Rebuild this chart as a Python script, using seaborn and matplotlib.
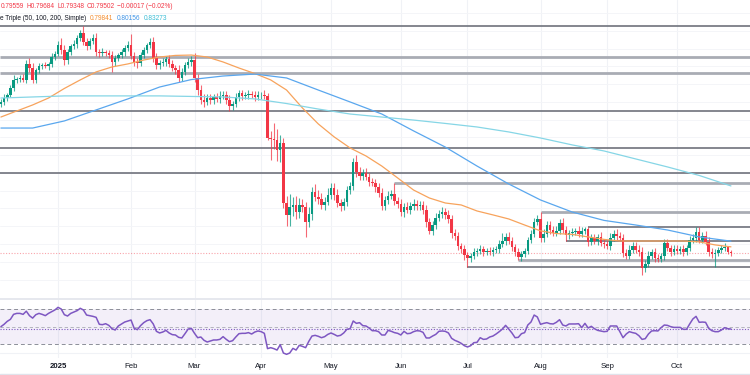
# =========================
# USD/CHF DAILY - CANDLES, SMA 50/100/200, RSI
# =========================

import numpy as np
import pandas as pd
import matplotlib
matplotlib.use("Agg")
import matplotlib.pyplot as plt
import seaborn as sns
from matplotlib.lines import Line2D
from matplotlib.patches import Rectangle

# =========================
# DATA
# =========================

dates = pd.bdate_range("2024-12-06", "2025-10-24")

first_open = 0.8789

closes = [
    0.8800, 0.8822, 0.8839, 0.8879, 0.8924, 0.8929, 0.8935, 0.8924, 0.9014, 0.8991,
    0.8924, 0.8980, 0.9002, 0.9008, 0.9002, 0.9014, 0.9053, 0.9070, 0.9121, 0.9093,
    0.9036, 0.9081, 0.9115, 0.9126, 0.9160, 0.9188, 0.9138, 0.9115, 0.9143, 0.9160,
    0.9081, 0.9076, 0.9081, 0.9076, 0.9064, 0.9025, 0.9047, 0.9064, 0.9081, 0.9104,
    0.9121, 0.9059, 0.9025, 0.9019, 0.9064, 0.9093, 0.9121, 0.9138, 0.9047, 0.9008,
    0.9019, 0.9025, 0.9042, 0.9014, 0.8991, 0.8980, 0.8935, 0.8969, 0.9008, 0.9025,
    0.9036, 0.8935, 0.8867, 0.8811, 0.8800, 0.8822, 0.8811, 0.8828, 0.8817, 0.8834,
    0.8839, 0.8811, 0.8777, 0.8788, 0.8828, 0.8850, 0.8834, 0.8839, 0.8845, 0.8839,
    0.8828, 0.8839, 0.8839, 0.8834, 0.8597, 0.8591, 0.8586, 0.8530, 0.8569, 0.8231,
    0.8164, 0.8209, 0.8220, 0.8180, 0.8220, 0.8209, 0.8124, 0.8169, 0.8293, 0.8265,
    0.8254, 0.8220, 0.8237, 0.8276, 0.8316, 0.8276, 0.8231, 0.8214, 0.8237, 0.8304,
    0.8327, 0.8462, 0.8406, 0.8383, 0.8400, 0.8378, 0.8349, 0.8344, 0.8321, 0.8287,
    0.8214, 0.8248, 0.8271, 0.8282, 0.8242, 0.8226, 0.8180, 0.8209, 0.8192, 0.8214,
    0.8226, 0.8214, 0.8220, 0.8192, 0.8124, 0.8074, 0.8107, 0.8147, 0.8169, 0.8180,
    0.8164, 0.8141, 0.8062, 0.8045, 0.7989, 0.7972, 0.7938, 0.7921, 0.7933, 0.7955,
    0.7961, 0.7972, 0.7955, 0.7961, 0.7955, 0.7967, 0.7972, 0.8000, 0.8017, 0.8040,
    0.8017, 0.7983, 0.7955, 0.7927, 0.7944, 0.7961, 0.8023, 0.8057, 0.8124, 0.8141,
    0.8034, 0.8057, 0.8107, 0.8079, 0.8062, 0.8074, 0.8119, 0.8079, 0.8051, 0.8062,
    0.8068, 0.8074, 0.8057, 0.8074, 0.8085, 0.8012, 0.8034, 0.8017, 0.8040, 0.8006,
    0.8000, 0.7989, 0.8034, 0.8057, 0.8045, 0.8034, 0.7950, 0.7933, 0.7967, 0.7989,
    0.7967, 0.7955, 0.7865, 0.7888, 0.7933, 0.7955, 0.7921, 0.7916, 0.7933, 0.8006,
    0.7978, 0.7955, 0.7972, 0.7961, 0.7972, 0.7955, 0.7978, 0.8023, 0.8034, 0.8068,
    0.8023, 0.8045, 0.8012, 0.7955, 0.7944, 0.7950, 0.7967, 0.7978, 0.7983, 0.7956,
    0.7950,
]

# wick lengths in pips above / below the candle body
upper_wick = [
    15, 20, 12, 18, 25, 10, 14, 20, 22, 35,
    30, 12, 18, 10, 15, 12, 20, 15, 20, 40,
    25, 15, 12, 20, 18, 17, 40, 22, 15, 20,
    30, 15, 20, 12, 18, 25, 20, 12, 15, 18,
    20, 60, 25, 20, 15, 18, 12, 20, 25, 30,
    15, 20, 18, 25, 20, 15, 30, 20, 15, 25,
    20, 40, 25, 30, 35, 20, 25, 18, 22, 30,
    20, 25, 30, 20, 25, 18, 20, 15, 22, 18,
    20, 25, 18, 30, 15, 40, 91, 60, 45, 30,
    40, 70, 45, 50, 40, 35, 30, 40, 30, 45,
    40, 35, 30, 40, 25, 30, 35, 25, 20, 25,
    20, 22, 40, 30, 25, 30, 20, 25, 20, 25,
    30, 20, 25, 20, 62, 25, 30, 20, 25, 20,
    25, 20, 25, 20, 30, 25, 20, 25, 20, 29,
    25, 30, 20, 25, 20, 15, 20, 18, 15, 20,
    15, 20, 18, 15, 20, 15, 18, 20, 45, 20,
    25, 20, 15, 20, 15, 18, 15, 20, 25, 20,
    39, 30, 25, 20, 20, 25, 20, 25, 20, 15,
    20, 15, 25, 20, 11, 11, 25, 20, 15, 25,
    20, 25, 30, 20, 25, 20, 25, 20, 25, 20,
    20, 25, 30, 20, 25, 18, 25, 20, 15, 25,
    20, 18, 25, 20, 15, 20, 18, 20, 25, 30,
    25, 20, 30, 25, 20, 20, 18, 15, 22, 5,
    12,
]

lower_wick = [
    20, 15, 18, 12, 20, 15, 18, 12, 20, 25,
    15, 20, 18, 15, 12, 20, 15, 18, 12, 25,
    30, 20, 15, 18, 20, 15, 20, 25, 15, 18,
    20, 25, 15, 20, 18, 56, 20, 15, 18, 20,
    15, 20, 25, 30, 18, 15, 20, 15, 20, 25,
    20, 15, 25, 20, 18, 25, 20, 15, 20, 18,
    25, 20, 30, 25, 30, 20, 25, 20, 18, 25,
    20, 25, 30, 20, 18, 20, 25, 15, 20, 18,
    20, 18, 25, 20, 11, 118, 50, 60, 68, 30,
    64, 60, 50, 40, 35, 30, 84, 30, 35, 25,
    30, 25, 30, 20, 25, 30, 25, 30, 20, 25,
    20, 25, 30, 20, 25, 20, 25, 20, 30, 20,
    25, 20, 25, 20, 20, 25, 20, 30, 20, 25,
    20, 25, 20, 25, 30, 17, 25, 20, 18, 20,
    25, 20, 30, 25, 20, 25, 30, 50, 20, 15,
    20, 15, 20, 18, 15, 20, 15, 20, 18, 20,
    15, 20, 25, 17, 20, 15, 20, 15, 20, 18,
    25, 20, 15, 20, 18, 15, 20, 15, 34, 20,
    15, 20, 18, 15, 20, 25, 20, 15, 20, 18,
    20, 15, 25, 18, 20, 15, 25, 20, 15, 20,
    18, 20, 39, 25, 20, 15, 20, 18, 20, 25,
    15, 20, 18, 20, 15, 20, 18, 20, 15, 20,
    18, 15, 20, 25, 20, 73, 15, 18, 20, 10,
    15,
]

# moving averages read every 5th (SMA 50) and every 10th bar (SMA 100 / 200)
sma50 = [
    0.8715, 0.8749, 0.8783, 0.8822, 0.8876, 0.8924, 0.8969, 0.8997, 0.9014, 0.9036,
    0.9053, 0.9062, 0.9064, 0.9053, 0.9025, 0.8991, 0.8960, 0.8924, 0.8867, 0.8766,
    0.8676, 0.8603, 0.8541, 0.8496, 0.8439, 0.8372, 0.8304, 0.8259, 0.8231, 0.8220,
    0.8186, 0.8164, 0.8141, 0.8107, 0.8074, 0.8059, 0.8054, 0.8040, 0.8026, 0.8017,
    0.8017, 0.8017, 0.8017, 0.8017, 0.8012, 0.7995, 0.7984,
]
sma100 = [
    0.8653, 0.8653, 0.8693, 0.8755, 0.8817, 0.8884, 0.8926, 0.8946, 0.8957, 0.8935,
    0.8867, 0.8800, 0.8732, 0.8637, 0.8546, 0.8439, 0.8338, 0.8248, 0.8180, 0.8133,
    0.8107, 0.8079, 0.8040, 0.8016,
]
sma200 = [
    0.8822, 0.8828, 0.8834, 0.8834, 0.8834, 0.8834, 0.8831, 0.8828, 0.8817, 0.8791,
    0.8760, 0.8732, 0.8715, 0.8698, 0.8679, 0.8659, 0.8631, 0.8597, 0.8558, 0.8524,
    0.8479, 0.8434, 0.8386, 0.8327,
]

rsi = [
    49.8, 52.5, 55.9, 58.2, 63.9, 65.0, 65.0, 63.9, 67.5, 62.4,
    59.6, 63.5, 65.0, 63.9, 62.4, 65.0, 67.0, 68.9, 71.9, 70.0,
    63.5, 62.0, 65.0, 66.6, 68.1, 70.8, 68.9, 63.1, 62.4, 61.6,
    60.5, 52.5, 52.1, 53.2, 51.3, 47.5, 46.0, 50.6, 52.9, 55.1,
    56.3, 57.4, 47.9, 46.4, 51.0, 54.4, 56.7, 57.8, 52.9, 44.5,
    42.6, 43.7, 45.6, 42.6, 40.7, 40.3, 37.6, 36.9, 41.8, 47.1,
    47.9, 42.2, 37.2, 38.0, 34.2, 32.3, 33.4, 34.6, 34.6, 35.3,
    38.4, 35.3, 32.7, 33.8, 38.0, 41.8, 42.2, 42.2, 43.0, 41.4,
    43.7, 44.9, 44.1, 42.2, 24.7, 25.8, 24.7, 23.1, 29.2, 19.7,
    18.2, 19.7, 25.0, 23.1, 28.5, 27.3, 25.8, 33.0, 39.1, 39.9,
    38.8, 37.2, 38.4, 41.0, 42.6, 41.0, 39.1, 39.9, 42.6, 46.8,
    47.5, 56.3, 53.6, 54.4, 51.0, 50.6, 48.3, 45.2, 45.2, 44.1,
    40.3, 40.3, 45.6, 44.5, 43.0, 42.2, 40.3, 44.5, 41.8, 42.2,
    44.1, 45.2, 44.9, 43.3, 36.9, 36.9, 39.1, 41.0, 44.5, 44.9,
    44.5, 42.6, 36.5, 34.2, 32.7, 30.8, 28.1, 26.6, 28.1, 31.5,
    31.9, 37.2, 35.3, 35.7, 38.0, 39.1, 41.4, 44.1, 47.1, 51.3,
    47.1, 42.6, 37.2, 37.6, 41.8, 43.0, 51.7, 55.1, 63.1, 60.9,
    52.5, 53.6, 54.4, 53.2, 52.9, 54.8, 57.8, 51.7, 50.6, 52.9,
    52.9, 52.9, 53.2, 48.7, 53.6, 48.3, 50.2, 47.5, 45.6, 44.9,
    44.1, 44.5, 50.6, 50.6, 50.6, 44.1, 37.2, 41.4, 44.1, 43.0,
    42.2, 39.5, 35.3, 36.1, 41.4, 44.9, 45.2, 44.9, 48.7, 51.7,
    51.3, 49.8, 49.0, 49.0, 49.0, 46.8, 46.8, 52.9, 58.6, 61.6,
    54.8, 55.1, 54.8, 47.9, 45.2, 44.1, 44.1, 46.0, 48.7, 47.5,
    47.1,
]

# drawn support / resistance levels
full_levels = [0.9228, 0.9053, 0.8963, 0.8749, 0.8541, 0.8400]
full_heavy = [False, True, True, False, False, False]
ray_levels = [0.8344, 0.8180, 0.8096, 0.8017, 0.7910, 0.7871]
ray_starts = ["2025-05-29", "2025-08-01", "2025-08-22", "2025-08-13", "2025-07-23", "2025-07-01"]
ray_heavy = [True, True, False, False, True, False]

last_price = 0.79502
header_ohlc = ["0.79559", "H0.79684", "L0.79348", "C0.79502", "\u22120.00017 (\u22120.02%)"]
header_ma_name = "e Triple (50, 100, 200, Simple)"
header_ma = ["0.79841", "0.80156", "0.83273"]

# =========================
# STYLE
# =========================

sns.set_theme(style="white")
plt.rcParams["font.family"] = ["Liberation Sans", "DejaVu Sans"]

GREEN = "#089981"
RED = "#f23645"
ORANGE = "#f7a35c"
BLUE = "#5aa7ee"
CYAN = "#86d6e6"
PURPLE = "#7e57c2"
TEXT = "#131722"

W, H = 750, 375

# =========================
# PREPARE CANDLES
# =========================

pos = np.arange(len(dates))
close = np.array(closes)
open_ = np.r_[first_open, close[:-1]]
top = np.maximum(open_, close)
bot = np.minimum(open_, close)
high = top + np.array(upper_wick) / 10000
low = bot - np.array(lower_wick) / 10000
colors = np.where(close >= open_, GREEN, RED)

month_pos = [p for p in pos[1:] if dates[p].month != dates[p - 1].month]
month_lab = ["2025" if dates[p].month == 1 else dates[p].strftime("%b") for p in month_pos]

xlim = (-0.28, 236.0)

# =========================
# FIGURE
# =========================

fig = plt.figure(figsize=(7.5, 3.75), dpi=100)
ax = fig.add_axes([0, 1 - 298 / H, 1, 298 / H])
ax_r = fig.add_axes([0, 1 - 358 / H, 1, 58 / H])

for a in (ax, ax_r):
    for p in month_pos:
        a.axvline(p, color="#f0f2f6", lw=0.8, zorder=0)
    for s in a.spines.values():
        s.set_visible(False)
    a.set_xlim(*xlim)

for lvl in np.arange(0.78, 0.94, 0.01):
    ax.axhline(lvl, color="#f4f5f8", lw=0.7, zorder=0)

# levels
for lvl, heavy in zip(full_levels, full_heavy):
    ax.hlines(lvl, xlim[0], xlim[1], color="#a9acb4" if heavy else "#6f727c",
              lw=2.0 if heavy else 1.2, zorder=1)
for lvl, start, heavy in zip(ray_levels, ray_starts, ray_heavy):
    x0 = dates.get_loc(pd.Timestamp(start))
    ax.hlines(lvl, x0, xlim[1], color="#a9acb4" if heavy else "#6f727c",
              lw=2.0 if heavy else 1.2, zorder=1)

ax.axhline(last_price, color=RED, lw=0.8, ls=(0, (1, 1.5)), alpha=0.45, zorder=1)

# candles
ax.vlines(pos, low, high, colors=colors, lw=0.8, alpha=0.75, zorder=2)
ax.bar(pos, np.maximum(top - bot, 0.00012), bottom=bot, width=0.8,
       color=colors, linewidth=0, zorder=3)

# moving averages
sns.lineplot(x=pos[::5], y=sma50, ax=ax, color=ORANGE, lw=0.9, legend=False, zorder=4)
sns.lineplot(x=pos[::10], y=sma100, ax=ax, color=BLUE, lw=0.9, legend=False, zorder=4)
sns.lineplot(x=pos[::10], y=sma200, ax=ax, color=CYAN, lw=0.9, legend=False, zorder=4)

ax.set_ylim(0.7696, 0.9374)
ax.set_xticks([])
ax.set_yticks([])
ax.set_xlabel("")
ax.set_ylabel("")

# =========================
# RSI PANEL
# =========================

ax_r.axhspan(30, 70, color=PURPLE, alpha=0.09, lw=0, zorder=0)
ax_r.axhline(20, color="#f0f2f6", lw=0.8, zorder=0)
ax_r.axhline(70, color="#8c8f99", lw=0.7, ls=(0, (4, 3)), zorder=1)
ax_r.axhline(30, color="#8c8f99", lw=0.7, ls=(0, (4, 3)), zorder=1)
ax_r.axhline(50, color="#a9acb4", lw=0.6, ls=(0, (4, 3)), zorder=1)
ax_r.axhline(rsi[-1], color=PURPLE, lw=0.8, ls=(0, (1, 1.5)), zorder=1)
sns.lineplot(x=pos, y=rsi, ax=ax_r, color=PURPLE, lw=1.1, legend=False, zorder=3)

ax_r.set_ylim(14.0, 80.3)
ax_r.set_yticks([])
ax_r.set_xticks(month_pos)
ax_r.set_xticklabels(month_lab, fontsize=5.6, color=TEXT)
for t in ax_r.get_xticklabels():
    if t.get_text() == "2025":
        t.set_fontweight("bold")
ax_r.tick_params(axis="x", length=0, pad=3.5)
ax_r.set_xlabel("")
ax_r.set_ylabel("")

# =========================
# PANEL DECORATION & HEADER
# =========================

fig.add_artist(Rectangle((0, 1 - 300 / H), 1, 2 / H, transform=fig.transFigure,
                         color="#e6e8ee", lw=0))
fig.add_artist(Line2D([0, 1], [1 - 373.5 / H] * 2, transform=fig.transFigure,
                      color="#e0e3eb", lw=1))

renderer = fig.canvas.get_renderer()


def text_row(parts, x_px, y_px, gap_px, size):
    # place texts one after the other, measuring each
    for txt, col in parts:
        t = fig.text(x_px / W, 1 - y_px / H, txt, color=col, fontsize=size, va="center")
        x_px = t.get_window_extent(renderer).x1 + gap_px


text_row([(s, RED) for s in header_ohlc], 1, 7, 2.5, 4.7)
text_row([(header_ma_name, TEXT)] + list(zip(header_ma, ["#f48c2c", "#3d93e6", "#38bcd4"])),
         0.5, 18, 3.5, 4.7)

fig.savefig("out.png", dpi=100)
